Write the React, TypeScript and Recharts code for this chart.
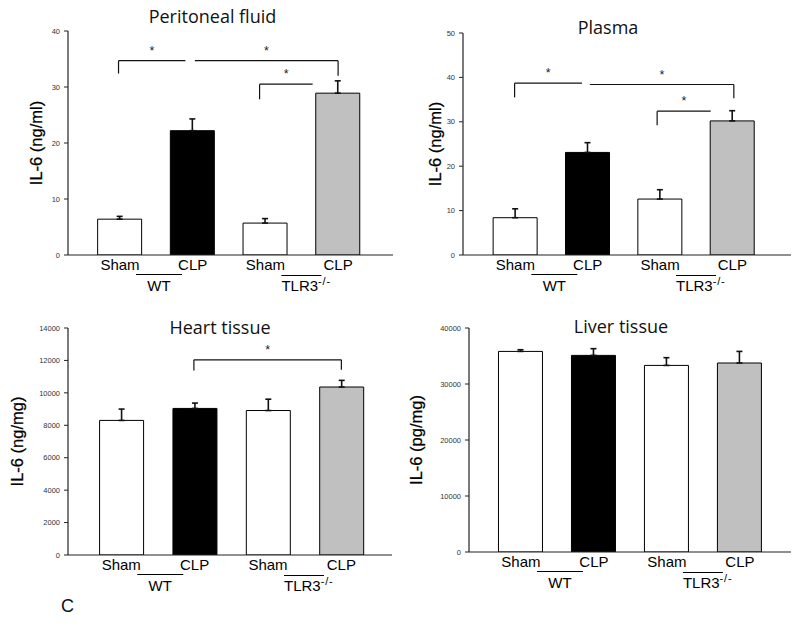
import React from 'react';
import { BarChart, Bar, XAxis, YAxis, Cell, ErrorBar, ReferenceLine } from 'recharts';

// ---------- data ----------
const categories = ['Sham', 'CLP', 'Sham', 'CLP'];
const positions = [1, 2, 3, 4];
const groupLabels = ['WT', 'TLR3'];
const groupSuperscript = '-/-';
const barColors = ['#ffffff', '#000000', '#ffffff', '#c0c0c0'];

const peritonealMean = [6.4, 22.2, 5.7, 28.9];
const peritonealErr = [0.5, 2.1, 0.8, 2.2];
const plasmaMean = [8.4, 23.1, 12.6, 30.2];
const plasmaErr = [2.0, 2.2, 2.1, 2.3];
const heartMean = [8300, 9040, 8910, 10360];
const heartErr = [700, 330, 700, 410];
const liverMean = [35820, 35110, 33320, 33750];
const liverErr = [300, 1200, 1380, 2070];

const peritonealTicks = [0, 10, 20, 30, 40];
const plasmaTicks = [0, 10, 20, 30, 40, 50];
const heartTicks = [0, 2000, 4000, 6000, 8000, 10000, 12000, 14000];
const liverTicks = [0, 10000, 20000, 30000, 40000];

const titles = ['Peritoneal fluid', 'Plasma', 'Heart tissue', 'Liver tissue'];
const yLabels = ['IL-6 (ng/ml)', 'IL-6 (ng/ml)', 'IL-6 (ng/mg)', 'IL-6 (pg/mg)'];
const panelLetter = 'C';

// significance brackets in data units: horizontal line x1..x2 at y, optional legs down to given value
type Bracket = { x1: number; x2: number; y: number; leftDrop?: number; rightDrop?: number };
const peritonealBrackets: Bracket[] = [
  { x1: 0.98, x2: 1.9, y: 34.7, leftDrop: 32.4 },
  { x1: 2.03, x2: 4.0, y: 34.7, rightDrop: 32.0 },
  { x1: 2.92, x2: 3.65, y: 30.5, leftDrop: 27.8 },
];
const plasmaBrackets: Bracket[] = [
  { x1: 0.99, x2: 1.92, y: 38.7, leftDrop: 35.5 },
  { x1: 2.03, x2: 4.02, y: 38.4, rightDrop: 35.3 },
  { x1: 2.96, x2: 3.7, y: 32.4, leftDrop: 29.2 },
];
const heartBrackets: Bracket[] = [
  { x1: 1.99, x2: 4.0, y: 12040, leftDrop: 11380, rightDrop: 11420 },
];
const liverBrackets: Bracket[] = [];

const build = (means: number[], errs: number[]) =>
  positions.map((x, i) => ({ x, name: categories[i], mean: means[i], err: [0, errs[i]] }));

const FONT = 'Liberation Sans, Arial, sans-serif';

// ---------- pieces ----------
const CategoryTick = (props: any) => {
  const { x, y, payload } = props;
  const i = positions.indexOf(payload.value);
  if (i < 0) return null;
  return (
    <g>
      <text x={x} y={y + 15} textAnchor="middle" fontSize={15} fontFamily={FONT} fill="#000">
        {categories[i]}
      </text>
      {i === 0 && (
        <g>
          <line x1={x + 16} x2={x + 62} y1={y + 19.5} y2={y + 19.5} stroke="#000" strokeWidth={1} />
          <text x={x + 39} y={y + 36} textAnchor="middle" fontSize={15} fontFamily={FONT} fill="#000">
            {groupLabels[0]}
          </text>
        </g>
      )}
      {i === 2 && (
        <g>
          <line x1={x + 16} x2={x + 56} y1={y + 20.5} y2={y + 20.5} stroke="#000" strokeWidth={1} />
          <text x={x + 16} y={y + 36} textAnchor="start" fontSize={15} fontFamily={FONT} fill="#000">
            {groupLabels[1]}
            <tspan dy={-6} fontSize={11} letterSpacing={0.8}>{groupSuperscript}</tspan>
          </text>
        </g>
      )}
    </g>
  );
};

const yLabelContent = (text: string, dx: number) => (props: any) => {
  const vb = props.viewBox || { x: 0, y: 0, width: 0, height: 0 };
  const cx = vb.x + vb.width + dx;
  const cy = vb.y + vb.height / 2;
  return (
    <text
      x={cx}
      y={cy}
      transform={`rotate(-90 ${cx} ${cy})`}
      textAnchor="middle"
      fontSize={16.5}
      fontFamily={FONT}
      fill="#000"
      stroke="#000"
      strokeWidth={0.25}
    >
      {text}
    </text>
  );
};

const renderBracket = (b: Bracket, k: number) => {
  const out: any[] = [];
  out.push(
    <ReferenceLine
      key={`h${k}`}
      segment={[{ x: b.x1, y: b.y }, { x: b.x2, y: b.y }]}
      stroke="#111"
      strokeWidth={1.2}
      label={{ value: '*', position: 'top', offset: 6, fontSize: 12.5, fill: '#222', fontFamily: FONT }}
    />
  );
  if (b.leftDrop !== undefined) {
    out.push(
      <ReferenceLine key={`l${k}`} segment={[{ x: b.x1, y: b.y }, { x: b.x1, y: b.leftDrop }]} stroke="#111" strokeWidth={1.2} />
    );
  }
  if (b.rightDrop !== undefined) {
    out.push(
      <ReferenceLine key={`r${k}`} segment={[{ x: b.x2, y: b.y }, { x: b.x2, y: b.rightDrop }]} stroke="#111" strokeWidth={1.2} />
    );
  }
  return out;
};

type PanelProps = {
  left: number;
  top: number;
  width: number;
  height: number;
  margin: { top: number; right: number; bottom: number; left: number };
  xAxisHeight: number;
  yAxisWidth: number;
  xDomain: [number, number];
  data: any[];
  yDomain: [number, number];
  yTicks: number[];
  yLabel: string;
  yLabelDx: number;
  brackets: Bracket[];
};

const Panel = (p: PanelProps) => (
  <div style={{ position: 'absolute', left: p.left, top: p.top, width: p.width, height: p.height }}>
    <BarChart width={p.width} height={p.height} data={p.data} margin={p.margin}>
      <XAxis
        type="number"
        dataKey="x"
        domain={p.xDomain}
        ticks={positions}
        interval={0}
        allowDataOverflow
        tickLine={false}
        tickSize={0}
        tickMargin={0}
        height={p.xAxisHeight}
        tick={<CategoryTick />}
        axisLine={{ stroke: '#222', strokeWidth: 1.2 }}
      />
      <YAxis
        type="number"
        domain={p.yDomain}
        ticks={p.yTicks}
        interval={0}
        allowDataOverflow
        width={p.yAxisWidth}
        tickSize={4}
        tickMargin={4}
        tick={{ fontSize: 7.5, fill: '#333', fontFamily: FONT }}
        axisLine={{ stroke: '#222', strokeWidth: 1.2 }}
        tickLine={{ stroke: '#222' }}
        label={yLabelContent(p.yLabel, p.yLabelDx)}
      />
      <Bar dataKey="mean" barSize={44} stroke="#000" strokeWidth={1} isAnimationActive={false}>
        {p.data.map((_, i) => (
          <Cell key={i} fill={barColors[i]} />
        ))}
        <ErrorBar dataKey="err" width={3} stroke="#111" strokeWidth={1.6} direction="y" />
      </Bar>
      {p.brackets.map((b, k) => renderBracket(b, k))}
    </BarChart>
  </div>
);

export default function App() {
  return (
    <div
      style={{
        position: 'absolute',
        left: 0,
        top: 0,
        width: 800,
        height: 627,
        background: '#fff',
        overflow: 'hidden',
      }}
    >
      <Panel
        left={0}
        top={0}
        width={400}
        height={300}
        margin={{ top: 31, right: 7, bottom: 0, left: 8 }}
        xAxisHeight={45}
        yAxisWidth={60}
        xDomain={[0.285, 4.755]}
        data={build(peritonealMean, peritonealErr)}
        yDomain={[0, 40]}
        yTicks={peritonealTicks}
        yLabel={yLabels[0]}
        yLabelDx={-26}
        brackets={peritonealBrackets}
      />
      <Panel
        left={400}
        top={0}
        width={400}
        height={300}
        margin={{ top: 33, right: 9, bottom: 0, left: 3 }}
        xAxisHeight={45}
        yAxisWidth={60}
        xDomain={[0.277, 4.81]}
        data={build(plasmaMean, plasmaErr)}
        yDomain={[0, 50]}
        yTicks={plasmaTicks}
        yLabel={yLabels[1]}
        yLabelDx={-22}
        brackets={plasmaBrackets}
      />
      <Panel
        left={0}
        top={300}
        width={400}
        height={327}
        margin={{ top: 28, right: 8, bottom: 0, left: 8 }}
        xAxisHeight={72}
        yAxisWidth={60}
        xDomain={[0.274, 4.69]}
        data={build(heartMean, heartErr)}
        yDomain={[0, 14000]}
        yTicks={heartTicks}
        yLabel={yLabels[2]}
        yLabelDx={-45}
        brackets={heartBrackets}
      />
      <Panel
        left={400}
        top={300}
        width={400}
        height={327}
        margin={{ top: 28, right: 9, bottom: 0, left: 9 }}
        xAxisHeight={75}
        yAxisWidth={60}
        xDomain={[0.288, 4.7]}
        data={build(liverMean, liverErr)}
        yDomain={[0, 40000]}
        yTicks={liverTicks}
        yLabel={yLabels[3]}
        yLabelDx={-47}
        brackets={liverBrackets}
      />
      <svg
        width={800}
        height={627}
        style={{ position: 'absolute', left: 0, top: 0, pointerEvents: 'none' }}
      >
        <g fontFamily="'Open Sans', 'Noto Sans', sans-serif" fontSize={18} fill="#111" textAnchor="middle">
          <text x={212.5} y={23}>{titles[0]}</text>
          <text x={608} y={34}>{titles[1]}</text>
          <text x={220} y={334}>{titles[2]}</text>
          <text x={621} y={333}>{titles[3]}</text>
        </g>
        <text x={61} y={612} fontFamily={FONT} fontSize={18} fill="#111">
          {panelLetter}
        </text>
      </svg>
    </div>
  );
}
